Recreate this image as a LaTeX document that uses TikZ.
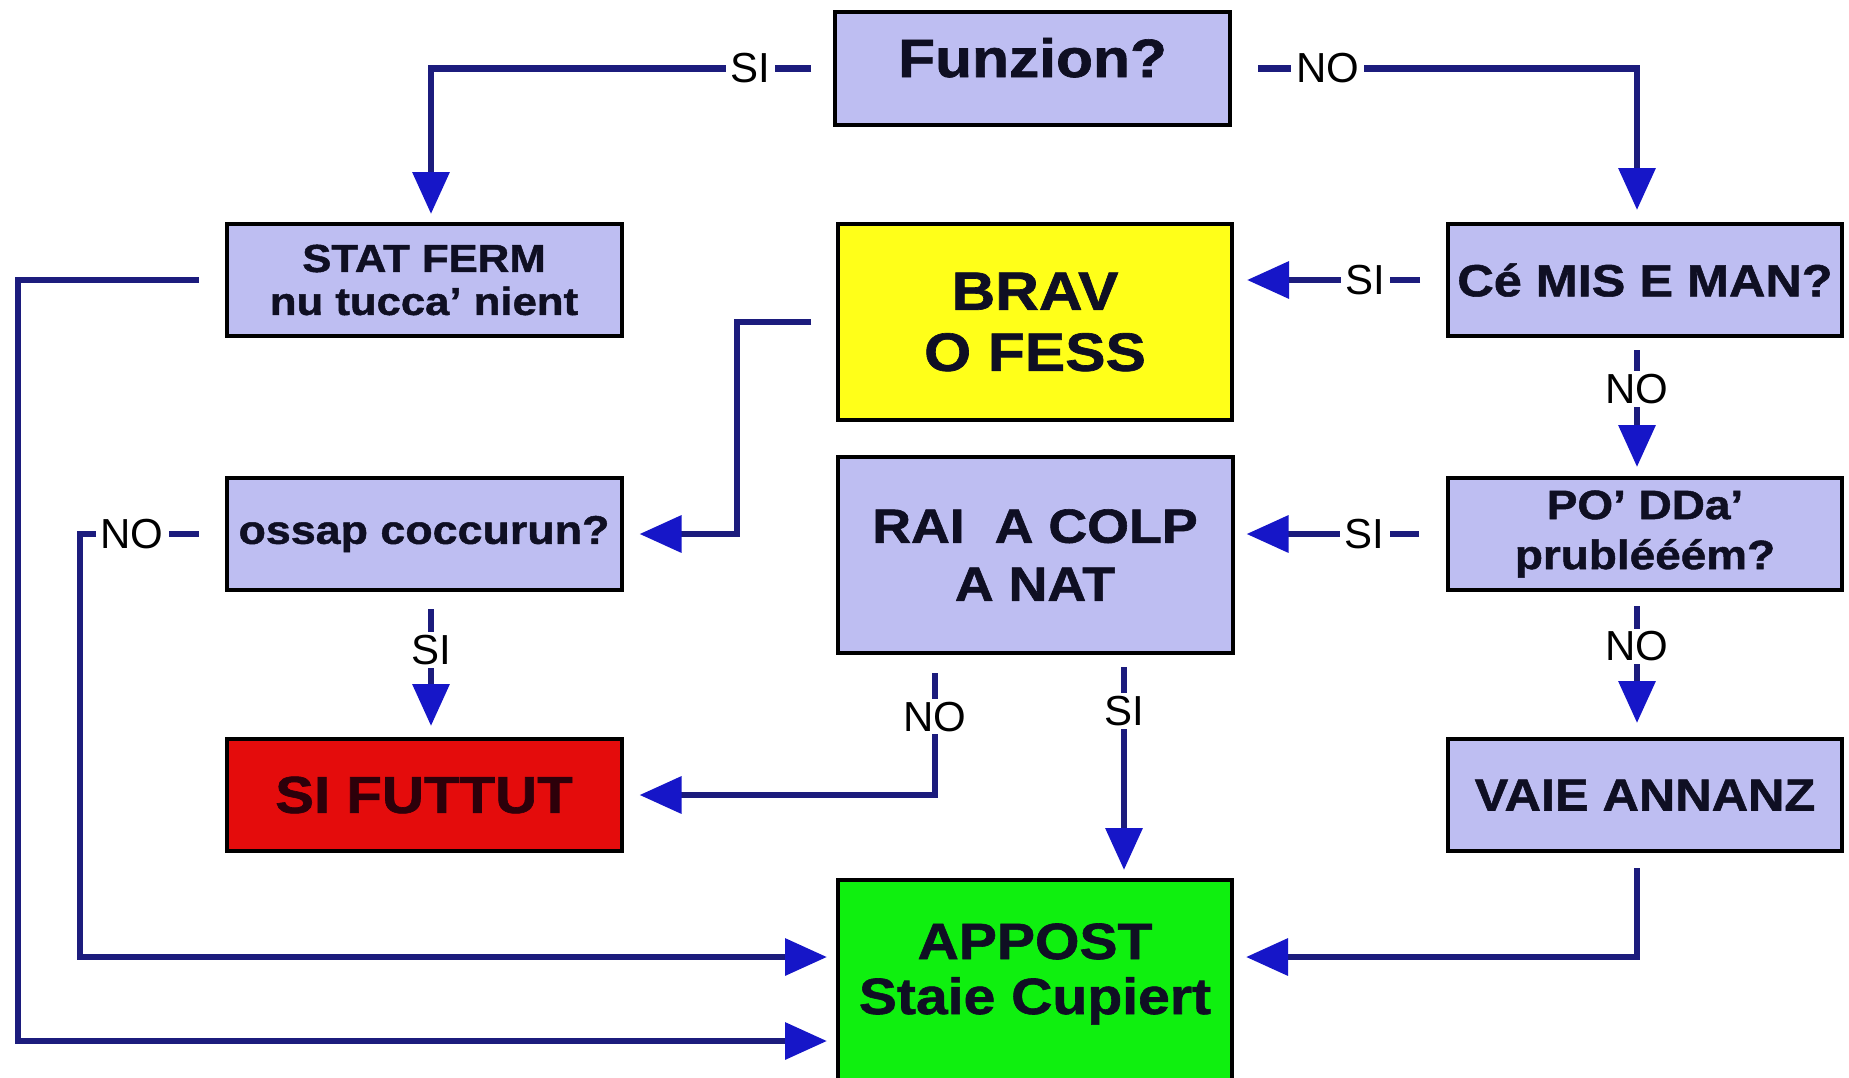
\documentclass[tikz,border=0pt]{standalone}
\usepackage{fontspec}
\setmainfont{Liberation Sans}
\newfontfamily\boxfont[FakeStretch=1.12, BoldFeatures={FakeBold=1.2}]{Liberation Sans}
\usetikzlibrary{arrows.meta}
\definecolor{lav}{RGB}{190,190,242}
\definecolor{ylw}{RGB}{255,255,25}
\definecolor{rd}{RGB}{228,12,12}
\definecolor{grn}{RGB}{15,240,15}
\definecolor{navy}{RGB}{28,28,125}
\definecolor{tipblue}{RGB}{22,22,200}
\definecolor{ink}{RGB}{15,15,35}
\definecolor{redink}{RGB}{45,0,10}
\newcommand\bxf[2]{\boxfont\bfseries\fontsize{#1}{#2}\selectfont}
\begin{document}
\begin{tikzpicture}[x=1pt,y=-1pt,
  box/.style={draw=black, line width=4pt, fill=lav, inner sep=0pt, align=center, text=ink},
  conn/.style={draw=navy, line width=6.5pt, line join=miter,
    -{Triangle[length=42pt,width=36pt,color=tipblue]}},
  lbl/.style={fill=white, inner xsep=5pt, inner ysep=3pt,
    font=\fontsize{42}{42}\selectfont, text=black}]
\useasboundingbox (0,0) rectangle (1849,1077);
\fill[white] (0,0) rectangle (1849,1077);

% boxes
\node[box, minimum width=395pt, minimum height=113pt, font=\bxf{54}{60},
      text height=40pt, text depth=23pt] (fun) at (1032.5,68.5) {Funzion?};
\node[box, minimum width=395pt, minimum height=112pt, font=\bxf{39}{43}] (stat) at (424,280)
      {STAT FERM\\nu tucca’ nient};
\node[box, fill=ylw, minimum width=394pt, minimum height=196pt, font=\bxf{54}{61}] (brav) at (1035,322)
      {BRAV\\O FESS};
\node[box, minimum width=394pt, minimum height=112pt, font=\bxf{45}{50}] (ce) at (1645,280)
      {Cé MIS E MAN?};
\node[box, minimum width=395pt, minimum height=112pt, font=\bxf{40}{44}] (ossap) at (424,534)
      {ossap coccurun?};
\node[box, minimum width=395pt, minimum height=196pt, font=\bxf{48}{58}] (rai) at (1035,555)
      {RAI~ A COLP\\A NAT};
\node[box, minimum width=394pt, minimum height=112pt, font=\bxf{41}{50}] (po) at (1645,534)
      {PO’ DDa’\\prublééém?};
\node[box, fill=rd, text=redink, minimum width=395pt, minimum height=112pt, font=\bxf{52}{56}] (fut) at (424,795)
      {SI FUTTUT};
\node[box, minimum width=394pt, minimum height=112pt, font=\bxf{45}{50}] (vaie) at (1645,795)
      {VAIE ANNANZ};
\node[box, fill=grn, minimum width=394pt, minimum height=240pt, anchor=north] (app) at (1035,878) {};
\node[font=\bxf{51}{55}, text=ink, align=center, inner sep=0pt] (apptext) at (1035,974)
      {APPOST\\Staie Cupiert};

% helper coordinates
\coordinate (xl) at (431,0);
\coordinate (xr) at (1637,0);
\coordinate (xm) at (737,0);
\coordinate (xo) at (18,0);
\coordinate (xn) at (80,0);
\coordinate (xc) at (935,0);
\coordinate (xs) at (1124,0);
\coordinate (ya) at (0,957);
\coordinate (yb) at (0,1041);

% connectors
\draw[conn, shorten <=22pt, shorten >=8pt] (fun.west) -- node[lbl, pos=0.205]{SI} (fun.west -| xl) -- (xl |- stat.north);
\draw[conn, shorten <=26pt, shorten >=12pt] (fun.east) -- node[lbl, pos=0.236]{NO} (fun.east -| xr) -- (xr |- ce.north);
\draw[conn, shorten <=26pt, shorten >=13pt] (ce.west) -- node[lbl, pos=0.38]{SI} (brav.east |- ce.west);
\draw[conn, shorten <=12pt, shorten >=9pt] (xr |- ce.south) -- node[lbl, pos=0.37]{NO} (xr |- po.north);
\draw[conn, shorten <=27pt, shorten >=12pt] (po.west) -- node[lbl, pos=0.384]{SI} (rai.east |- po.west);
\draw[conn, shorten <=14pt, shorten >=14pt] (xr |- po.south) -- node[lbl, pos=0.376]{NO} (xr |- vaie.north);
\draw[conn, shorten <=25pt, shorten >=16pt] (brav.west) -- (brav.west -| xm) -- (xm |- ossap.east) -- (ossap.east);
\draw[conn, shorten <=26pt, shorten >=9pt] (stat.west) -- (stat.west -| xo) -- (xo |- yb) -- (app.west |- yb);
\draw[conn, shorten <=26pt, shorten >=9pt] (ossap.west) -- node[lbl, pos=0.64]{NO} (ossap.west -| xn) -- (xn |- ya) -- (app.west |- ya);
\draw[conn, shorten <=17pt, shorten >=11pt] (xl |- ossap.south) -- node[lbl, pos=0.40]{SI} (xl |- fut.north);
\draw[conn, shorten <=18pt, shorten >=16pt] (xc |- rai.south) -- node[lbl, pos=0.44]{NO} (xc |- fut.east) -- (fut.east);
\draw[conn, shorten <=12pt, shorten >=8pt] (xs |- rai.south) -- node[lbl, pos=0.25]{SI} (xs |- app.north);
\draw[conn, shorten <=15pt, shorten >=12pt] (xr |- vaie.south) -- (xr |- ya) -- (app.east |- ya);
\end{tikzpicture}
\end{document}
